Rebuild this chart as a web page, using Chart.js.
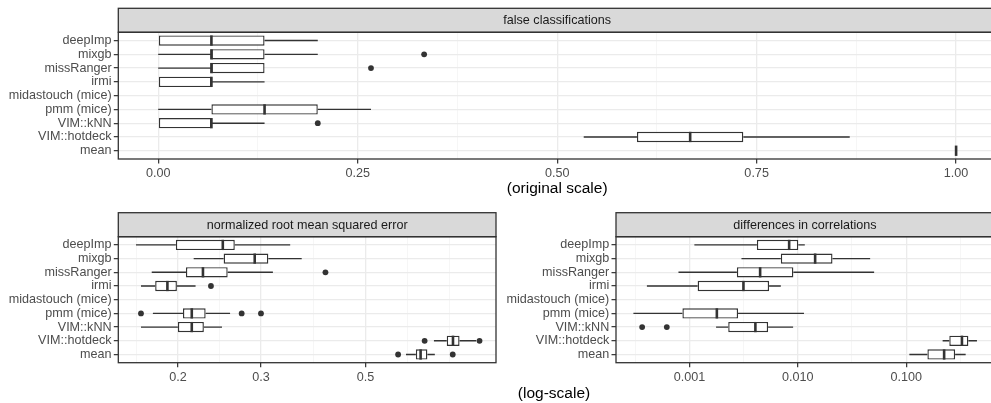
<!DOCTYPE html>
<html>
<head>
<meta charset="utf-8">
<script src="https://cdn.jsdelivr.net/npm/chart.js@4.4.1/dist/chart.umd.min.js"></script>
<style>
  html, body { margin: 0; padding: 0; background: #fff; overflow: hidden; }
  body { width: 991px; height: 403px; position: relative; font-family: "Liberation Sans", Arial, sans-serif; }
  canvas { position: absolute; }
  #logNote { position: absolute; left: 454px; top: 384px; width: 200px; text-align: center;
             font-size: 15.5px; line-height: 18px; color: #000; }
</style>
</head>
<body>
<canvas id="fcChart" width="1010" height="200" style="left:0;top:0"></canvas>
<canvas id="nrChart" width="505" height="203" style="left:0;top:200px"></canvas>
<canvas id="dcChart" width="510" height="203" style="left:500px;top:200px"></canvas>
<div id="logNote">(log-scale)</div>

<script>
const methods = ['deepImp', 'mixgb', 'missRanger', 'irmi', 'midastouch (mice)', 'pmm (mice)', 'VIM::kNN', 'VIM::hotdeck', 'mean'];

// false classifications: whisker ends, quartiles, median, outliers
const fcLow  = [0, 0, 0, 0, null, 0, 0, 0.5333, 1];
const fcQ1   = [0, 0.0667, 0.0667, 0, null, 0.0667, 0, 0.6, 1];
const fcMed  = [0.0667, 0.0667, 0.0667, 0.0667, null, 0.1333, 0.0667, 0.6667, 1];
const fcQ3   = [0.1333, 0.1333, 0.1333, 0.0667, null, 0.2, 0.0667, 0.7333, 1];
const fcHigh = [0.2, 0.2, 0.1333, 0.1333, null, 0.2667, 0.1333, 0.8667, 1];
const fcOut  = [[], [0.3333], [0.2667], [], [], [], [0.2], [], []];

// normalized root mean squared error
const nrLow  = [0.163, 0.216, 0.176, 0.167, null, 0.177, 0.167, 0.698, 0.609];
const nrQ1   = [0.198, 0.250, 0.208, 0.179, null, 0.205, 0.200, 0.743, 0.639];
const nrMed  = [0.249, 0.291, 0.226, 0.190, null, 0.214, 0.214, 0.766, 0.654];
const nrQ3   = [0.264, 0.311, 0.255, 0.199, null, 0.229, 0.227, 0.791, 0.676];
const nrHigh = [0.346, 0.366, 0.318, 0.218, null, 0.258, 0.248, 0.858, 0.701];
const nrOut  = [[], [], [0.411], [0.235], [], [0.167, 0.273, 0.300], [], [0.667, 0.872], [0.586, 0.765]];

// differences in correlations
const dcLow  = [0.00111, 0.00302, 0.000792, 0.000405, null, 0.000304, 0.00176, 0.217, 0.107];
const dcQ1   = [0.00419, 0.00697, 0.00274, 0.00119, null, 0.000861, 0.00228, 0.250, 0.157];
const dcMed  = [0.00832, 0.01445, 0.00449, 0.00315, null, 0.00179, 0.00406, 0.327, 0.224];
const dcQ3   = [0.0101, 0.0209, 0.0091, 0.00543, null, 0.00281, 0.00532, 0.375, 0.283];
const dcHigh = [0.0116, 0.0465, 0.0506, 0.00697, null, 0.0114, 0.00905, 0.450, 0.354];
const dcOut  = [[], [], [], [], [], [], [0.000366, 0.000618], [], []];

// axis breaks
const fcTicks = [0, 0.25, 0.5, 0.75, 1];
const fcTickLabels = ['0.00', '0.25', '0.50', '0.75', '1.00'];
const fcMinor = [0.125, 0.375, 0.625, 0.875];
const nrTicks = [0.2, 0.3, 0.5];
const nrTickLabels = ['0.2', '0.3', '0.5'];
const nrMinor = [0.1635, 0.245, 0.387, 0.614, 0.753];
const dcTicks = [0.001, 0.01, 0.1];
const dcTickLabels = ['0.001', '0.010', '0.100'];
const dcMinor = [0.000316, 0.00316, 0.0316, 0.316];

const INK = '#333333';
const TXT = '#4d4d4d';
const FONT = '"Liberation Sans", Arial, sans-serif';

Chart.defaults.font.family = FONT;
Chart.defaults.font.size = 12.6;

// whiskers, medians, outliers, panel frame and strip label
function boxplotPlugin(title, low, med, high, out) {
  return {
    id: 'boxplot',
    beforeDatasetsDraw(chart) {
      const { ctx, scales: { x, y } } = chart;
      const q1 = chart.data.datasets[0].q1, q3 = chart.data.datasets[0].q3;
      ctx.save();
      ctx.strokeStyle = INK;
      ctx.lineWidth = 1.4;
      low.forEach((lo, i) => {
        if (lo === null) return;
        const py = y.getPixelForValue(i);
        ctx.beginPath();
        ctx.moveTo(x.getPixelForValue(lo), py);
        ctx.lineTo(x.getPixelForValue(q1[i]), py);
        ctx.moveTo(x.getPixelForValue(q3[i]), py);
        ctx.lineTo(x.getPixelForValue(high[i]), py);
        ctx.stroke();
      });
      ctx.restore();
    },
    afterDatasetsDraw(chart) {
      const { ctx, scales: { x, y } } = chart;
      const half = 0.375 * Math.abs(y.getPixelForValue(1) - y.getPixelForValue(0));
      ctx.save();
      ctx.strokeStyle = INK;
      ctx.fillStyle = INK;
      ctx.lineWidth = 2.6;
      med.forEach((m, i) => {
        if (m === null) return;
        const px = x.getPixelForValue(m), py = y.getPixelForValue(i);
        ctx.beginPath();
        ctx.moveTo(px, py - half);
        ctx.lineTo(px, py + half);
        ctx.stroke();
      });
      out.forEach((pts, i) => {
        const py = y.getPixelForValue(i);
        pts.forEach(v => {
          ctx.beginPath();
          ctx.arc(x.getPixelForValue(v), py, 2.9, 0, Math.PI * 2);
          ctx.fill();
        });
      });
      ctx.restore();
    },
    afterDraw(chart) {
      const { ctx, chartArea: a } = chart;
      const w = a.right - a.left;
      ctx.save();
      ctx.fillStyle = '#d9d9d9';
      ctx.fillRect(a.left, a.top - 24, w, 24);
      ctx.strokeStyle = INK;
      ctx.lineWidth = 1.3;
      ctx.strokeRect(a.left, a.top - 24, w, 24);
      ctx.strokeRect(a.left, a.top, w, a.bottom - a.top);
      ctx.fillStyle = '#1a1a1a';
      ctx.font = '12.6px ' + FONT;
      ctx.textAlign = 'center';
      ctx.textBaseline = 'middle';
      ctx.fillText(title, a.left + w / 2, a.top - 11.5);
      ctx.restore();
    }
  };
}

function boxChart(id, p) {
  const boxes = [];
  methods.forEach((m, i) => {
    if (p.q1[i] !== null) boxes.push({ y: i, x: [p.q1[i], p.q3[i]] });
  });
  const xBreaks = p.ticks.concat(p.minor).sort((a, b) => a - b);
  const isMajor = v => p.ticks.indexOf(v) >= 0;

  return new Chart(document.getElementById(id), {
    type: 'bar',
    data: {
      datasets: [{
        data: boxes,
        q1: p.q1,
        q3: p.q3,
        backgroundColor: '#ffffff',
        borderColor: INK,
        borderWidth: 1.4,
        borderSkipped: false,
        barPercentage: 0.75,
        categoryPercentage: 1
      }]
    },
    options: {
      indexAxis: 'y',
      responsive: false,
      animation: false,
      events: [],
      layout: { padding: { top: p.padTop, right: p.padRight, left: 0, bottom: 0 } },
      plugins: { legend: { display: false }, tooltip: { enabled: false } },
      scales: {
        x: {
          type: p.type,
          min: p.min,
          max: p.max,
          offset: false,
          afterBuildTicks: s => { s.ticks = xBreaks.map(v => ({ value: v })); },
          afterFit: s => { s.height = p.xHeight; },
          ticks: {
            autoSkip: false,
            maxRotation: 0,
            padding: p.tickPad,
            color: TXT,
            callback: v => isMajor(v) ? p.tickLabels[p.ticks.indexOf(v)] : ''
          },
          grid: {
            offset: false,
            color: c => isMajor(c.tick.value) ? '#ebebeb' : '#f2f2f2',
            lineWidth: c => isMajor(c.tick.value) ? 1.3 : 0.7,
            tickColor: c => isMajor(c.tick.value) ? INK : 'rgba(0,0,0,0)',
            tickWidth: 1.2,
            tickLength: 4.5
          },
          border: { display: false },
          title: p.xTitle ? {
            display: true,
            text: p.xTitle,
            color: '#000',
            font: { size: 15.5 },
            padding: { top: 0, bottom: 2 }
          } : { display: false }
        },
        y: {
          type: 'linear',
          min: -0.6,
          max: 8.6,
          reverse: true,
          offset: false,
          afterBuildTicks: s => { s.ticks = methods.map((m, i) => ({ value: i })); },
          afterFit: s => { s.width = p.yWidth; },
          ticks: { autoSkip: false, padding: 2.2, color: TXT, callback: v => methods[v] },
          grid: { offset: false, color: '#ebebeb', lineWidth: 1.3, tickColor: INK, tickWidth: 1.2, tickLength: 4.5 },
          border: { display: false }
        }
      }
    },
    plugins: [boxplotPlugin(p.title, p.low, p.med, p.high, p.out)]
  });
}

boxChart('fcChart', {
  title: 'false classifications', xTitle: '(original scale)',
  low: fcLow, q1: fcQ1, med: fcMed, q3: fcQ3, high: fcHigh, out: fcOut,
  type: 'linear', min: -0.05, max: 1.05,
  ticks: fcTicks, tickLabels: fcTickLabels, minor: fcMinor,
  yWidth: 118.3, xHeight: 41, padTop: 32.3, padRight: 14, tickPad: 2
});

boxChart('nrChart', {
  title: 'normalized root mean squared error',
  low: nrLow, q1: nrQ1, med: nrMed, q3: nrQ3, high: nrHigh, out: nrOut,
  type: 'logarithmic', min: 0.1495, max: 0.945,
  ticks: nrTicks, tickLabels: nrTickLabels, minor: nrMinor,
  yWidth: 118.3, xHeight: 40.3, padTop: 36.7, padRight: 9, tickPad: 2.5
});

boxChart('dcChart', {
  title: 'differences in correlations',
  low: dcLow, q1: dcQ1, med: dcMed, q3: dcQ3, high: dcHigh, out: dcOut,
  type: 'logarithmic', min: 0.00021, max: 0.645,
  ticks: dcTicks, tickLabels: dcTickLabels, minor: dcMinor,
  yWidth: 116, xHeight: 40.3, padTop: 36.7, padRight: 16.1, tickPad: 2.5
});
</script>
</body>
</html>
